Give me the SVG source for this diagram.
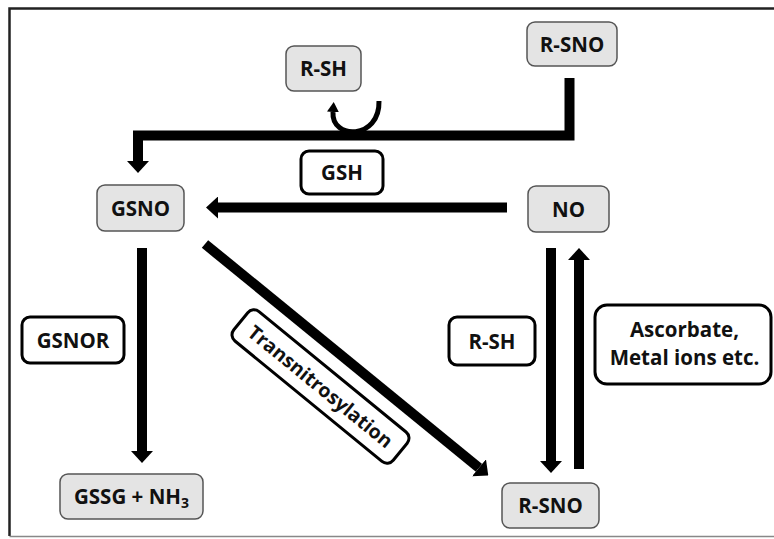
<svg xmlns="http://www.w3.org/2000/svg" width="774" height="539" viewBox="0 0 774 539">
  <style>
    .gbox { fill: #e4e4e4; stroke: #555; stroke-width: 1.5; }
    .wbox { fill: #fff; stroke: #000; stroke-width: 3; }
    .lbl { font-family: "Open Sans", "Liberation Sans", sans-serif; font-weight: 700; font-size: 20.5px; fill: #111; text-anchor: middle; }
    .wire { fill: none; stroke: #000; stroke-width: 10; stroke-linejoin: miter; }
  </style>
  <defs>
    <marker id="ah" viewBox="0 0 12 22" refX="0" refY="11" markerWidth="12" markerHeight="22" markerUnits="userSpaceOnUse" orient="auto">
      <path d="M0,0 L12,11 L0,22 Z" fill="#000"/>
    </marker>
    <marker id="ahs" viewBox="0 0 10 12" refX="0" refY="6" markerWidth="10" markerHeight="12" markerUnits="userSpaceOnUse" orient="auto">
      <path d="M0,0 L10,6 L0,12 Z" fill="#000"/>
    </marker>
  </defs>
  <rect width="774" height="539" fill="#fff"/>
  <g id="frame">
    <path d="M9.5,536 V8.5 H774" fill="none" stroke="#222" stroke-width="2.5"/>
    <path d="M9.5,536.5 H774" fill="none" stroke="#888" stroke-width="1.5"/>
  </g>

  <g id="connectors">
    <path class="wire" d="M569.5,78 V135.5 H138 V161" marker-end="url(#ah)"/>
    <path d="M379,101 C380,140 331,140 333,112" fill="none" stroke="#000" stroke-width="5" marker-end="url(#ahs)"/>
    <path class="wire" d="M507,207.5 H218" marker-end="url(#ah)"/>
    <path class="wire" d="M142,248 V451" marker-end="url(#ah)"/>
    <path class="wire" d="M205,244 L479,467.8" marker-end="url(#ah)"/>
    <path class="wire" d="M551,248 V461" marker-end="url(#ah)"/>
    <path class="wire" d="M579,469 V260" marker-end="url(#ah)"/>
  </g>

  <g id="rsh_top">
    <rect class="gbox" x="286" y="46" width="75" height="45" rx="8"/>
    <text class="lbl" x="323.5" y="76">R-SH</text>
  </g>
  <g id="rsno_top">
    <rect class="gbox" x="527" y="22" width="90" height="44" rx="8"/>
    <text class="lbl" x="572" y="51.5">R-SNO</text>
  </g>
  <g id="gsh">
    <rect class="wbox" x="301" y="151" width="82" height="43" rx="8"/>
    <text class="lbl" x="342" y="180">GSH</text>
  </g>
  <g id="gsno">
    <rect class="gbox" x="97" y="185" width="87" height="46" rx="8"/>
    <text class="lbl" x="140.5" y="215.5">GSNO</text>
  </g>
  <g id="no">
    <rect class="gbox" x="528" y="186" width="81" height="46" rx="8"/>
    <text class="lbl" x="568.5" y="216.5">NO</text>
  </g>
  <g id="gsnor">
    <rect class="wbox" x="22" y="317" width="102" height="46" rx="8"/>
    <text class="lbl" x="73" y="347.5">GSNOR</text>
  </g>
  <g id="rsh_mid">
    <rect class="wbox" x="449" y="317" width="86" height="48" rx="8"/>
    <text class="lbl" x="492" y="348.5">R-SH</text>
  </g>
  <g id="ascorbate">
    <rect class="wbox" x="595" y="305" width="176" height="79" rx="12"/>
    <text class="lbl" x="684.5" y="337">Ascorbate,</text>
    <text class="lbl" x="684.5" y="365">Metal ions etc.</text>
  </g>
  <g id="transnitrosylation">
    <g transform="translate(320.5,386.5) rotate(39.3)">
      <rect class="wbox" x="-103" y="-19" width="206" height="38" rx="8"/>
      <text class="lbl" x="0" y="7" style="font-size:19.5px">Transnitrosylation</text>
    </g>
  </g>
  <g id="gssg">
    <rect class="gbox" x="60" y="474" width="143" height="45" rx="8"/>
    <text class="lbl" x="131.5" y="503.5">GSSG + NH<tspan font-size="14" dy="4">3</tspan></text>
  </g>
  <g id="rsno_bottom">
    <rect class="gbox" x="502" y="483" width="97" height="45" rx="8"/>
    <text class="lbl" x="550.5" y="513">R-SNO</text>
  </g>
</svg>
